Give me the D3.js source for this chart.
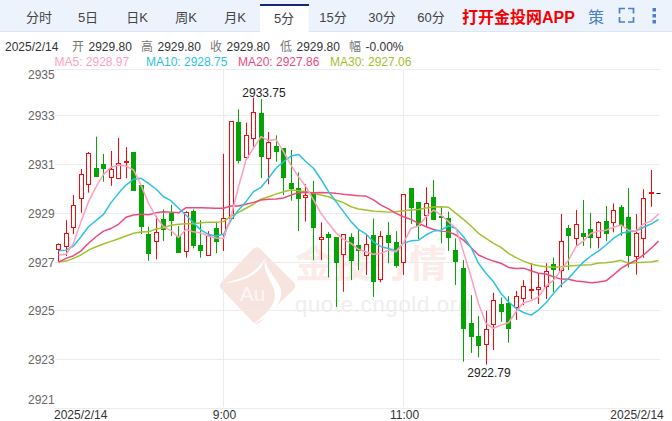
<!DOCTYPE html>
<html><head><meta charset="utf-8">
<script src="https://cdnjs.cloudflare.com/ajax/libs/d3/7.8.5/d3.min.js"></script>
<style>html,body{margin:0;padding:0;background:#fff;overflow:hidden}svg{display:block;font-family:"Liberation Sans","Noto Sans CJK SC",sans-serif}</style>
</head><body><svg id="c" width="672" height="421"></svg>
<script>
const tabs=["分时","5日","日K","周K","月K","5分","15分","30分","60分"];
const yTicks=[2921,2923,2925,2927,2929,2931,2933,2935];
const xLabels=[{i:-0.6,t:"2025/2/14",a:"start"},{i:22.14,t:"9:00",a:"middle"},{i:46.14,t:"11:00",a:"middle"},{i:80.7,t:"2025/2/14",a:"end"}];
const highs=[2927.77,2928.72,2929.75,2930.82,2931.52,2932.15,2931.44,2931.56,2932.10,2931.72,2931.48,2930.16,2928.45,2928.90,2929.16,2929.35,2928.48,2929.09,2929.16,2928.72,2928.27,2928.61,2931.44,2932.78,2933.27,2932.72,2933.75,2933.69,2932.34,2932.20,2931.68,2931.60,2930.68,2930.20,2930.33,2928.63,2928.24,2927.99,2928.15,2928.18,2928.31,2928.15,2928.79,2928.27,2928.64,2928.27,2929.78,2930.00,2929.44,2930.07,2930.37,2929.27,2929.07,2927.97,2927.08,2925.64,2924.78,2925.00,2925.74,2925.55,2925.60,2925.81,2926.26,2926.95,2926.51,2926.95,2927.19,2928.97,2928.52,2929.14,2929.55,2929.02,2928.68,2929.30,2929.41,2929.34,2930.04,2928.97,2929.99,2930.78,2929.80];
const lows=[2927.00,2927.25,2928.15,2929.02,2929.85,2930.53,2930.30,2930.13,2930.44,2930.44,2929.93,2928.15,2927.05,2927.11,2927.86,2928.07,2927.37,2927.18,2927.56,2927.18,2927.26,2927.36,2927.45,2928.79,2931.05,2931.19,2931.74,2930.45,2930.19,2931.12,2929.75,2929.52,2928.27,2928.66,2927.08,2927.08,2926.37,2925.16,2925.78,2926.26,2926.67,2926.47,2925.57,2926.17,2926.95,2926.77,2926.47,2928.56,2927.94,2928.45,2928.72,2927.77,2927.46,2926.06,2922.91,2923.27,2923.09,2922.79,2923.39,2924.55,2923.69,2924.62,2925.23,2925.48,2925.28,2925.48,2925.78,2925.96,2926.67,2927.67,2927.66,2927.56,2927.56,2927.86,2928.22,2928.08,2926.78,2926.48,2927.18,2929.27,2929.80];
const opens=[2927.52,2927.63,2928.41,2929.62,2930.17,2930.85,2931.02,2930.48,2930.44,2931.12,2931.48,2930.16,2928.15,2927.85,2928.75,2929.00,2928.04,2927.44,2929.08,2927.70,2927.26,2928.36,2928.15,2928.79,2932.75,2931.30,2932.06,2933.08,2931.26,2931.76,2931.67,2930.24,2930.00,2929.66,2929.82,2927.92,2928.15,2927.99,2927.32,2928.01,2927.70,2927.26,2928.11,2926.27,2928.11,2927.82,2926.99,2930.00,2929.44,2928.92,2929.67,2928.86,2928.77,2927.49,2926.75,2924.49,2923.96,2923.60,2924.44,2925.26,2925.28,2925.12,2925.51,2925.86,2925.88,2925.99,2926.88,2926.66,2928.38,2927.97,2928.18,2928.34,2928.01,2928.68,2928.63,2929.25,2928.84,2927.22,2927.97,2929.83,2929.80];
const closes=[2927.73,2928.18,2929.33,2930.60,2931.46,2930.53,2930.86,2930.82,2931.05,2931.14,2929.93,2928.45,2927.34,2928.22,2928.33,2928.70,2927.38,2929.02,2927.67,2927.46,2928.07,2927.83,2928.79,2932.78,2931.19,2932.20,2933.15,2931.32,2931.92,2931.52,2930.46,2930.00,2929.60,2929.74,2928.41,2928.01,2928.00,2926.97,2928.14,2927.08,2927.49,2927.74,2926.19,2928.06,2927.82,2926.84,2929.78,2929.23,2928.49,2929.41,2928.74,2928.81,2928.00,2927.01,2924.26,2923.93,2923.59,2924.24,2925.44,2924.99,2924.26,2925.59,2926.00,2925.89,2925.96,2926.62,2926.71,2927.85,2928.08,2928.55,2928.04,2928.00,2928.63,2928.16,2929.12,2928.52,2927.26,2928.18,2929.62,2929.87,2929.80];
const ma5=[2927.29,2927.32,2927.77,2928.66,2929.48,2930.09,2930.60,2930.89,2930.98,2930.94,2930.78,2930.16,2929.41,2928.86,2928.45,2928.29,2928.01,2928.34,2928.24,2928.19,2928.07,2927.99,2927.97,2928.86,2930.09,2931.19,2931.67,2932.15,2931.98,2932.04,2931.53,2930.98,2930.50,2930.09,2929.55,2929.00,2928.59,2928.20,2927.93,2927.77,2927.52,2927.42,2927.32,2927.36,2927.49,2927.42,2927.79,2928.38,2928.48,2928.86,2929.14,2928.93,2928.66,2928.38,2927.42,2926.40,2925.30,2924.48,2924.28,2924.41,2924.51,2924.96,2925.33,2925.41,2925.57,2926.01,2926.26,2926.67,2927.08,2927.63,2927.87,2928.18,2928.27,2928.31,2928.43,2928.52,2928.31,2928.27,2928.56,2928.68,2928.97];
const ma10=[2927.46,2927.49,2927.66,2928.04,2928.45,2928.70,2928.96,2929.44,2929.82,2930.16,2930.40,2930.44,2930.23,2930.00,2929.68,2929.52,2929.21,2928.93,2928.61,2928.31,2928.14,2928.07,2928.14,2928.72,2929.14,2929.48,2929.89,2930.07,2930.44,2930.85,2931.12,2931.35,2931.42,2931.12,2930.85,2930.40,2929.89,2929.48,2929.07,2928.66,2928.34,2928.15,2927.83,2927.63,2927.56,2927.46,2927.77,2927.87,2927.90,2928.11,2928.27,2928.31,2928.49,2928.38,2928.04,2927.60,2926.95,2926.54,2926.19,2925.71,2925.37,2925.10,2924.93,2924.82,2925.03,2925.33,2925.71,2926.06,2926.33,2926.67,2927.01,2927.25,2927.45,2927.70,2927.97,2928.18,2928.24,2928.27,2928.43,2928.56,2928.75];
const ma20=[2927.00,2927.15,2927.26,2927.46,2927.77,2928.04,2928.27,2928.38,2928.55,2928.84,2928.93,2928.96,2928.94,2929.02,2929.07,2929.05,2929.02,2929.23,2929.23,2929.23,2929.22,2929.21,2929.21,2929.30,2929.30,2929.37,2929.45,2929.55,2929.58,2929.59,2929.63,2929.75,2929.85,2929.87,2929.85,2929.86,2929.85,2929.82,2929.78,2929.75,2929.72,2929.71,2929.55,2929.34,2929.18,2929.00,2928.86,2928.75,2928.59,2928.45,2928.34,2928.27,2928.24,2928.11,2927.90,2927.60,2927.29,2927.15,2927.04,2926.95,2926.78,2926.74,2926.75,2926.64,2926.54,2926.51,2926.40,2926.30,2926.29,2926.22,2926.19,2926.15,2926.18,2926.23,2926.47,2926.74,2926.92,2927.08,2927.29,2927.56,2927.86];
const ma30=[2927.00,2927.04,2927.15,2927.29,2927.49,2927.63,2927.74,2927.85,2927.96,2928.07,2928.18,2928.23,2928.24,2928.36,2928.41,2928.51,2928.55,2928.57,2928.57,2928.61,2928.63,2928.63,2928.66,2928.89,2929.04,2929.21,2929.38,2929.58,2929.68,2929.79,2929.89,2929.96,2929.93,2929.89,2929.82,2929.75,2929.68,2929.55,2929.44,2929.27,2929.18,2929.14,2929.09,2929.08,2929.05,2929.07,2929.11,2929.14,2929.16,2929.22,2929.26,2929.27,2929.25,2929.00,2928.75,2928.48,2928.18,2927.97,2927.77,2927.60,2927.36,2927.18,2927.04,2926.92,2926.85,2926.81,2926.79,2926.81,2926.84,2926.86,2926.88,2926.89,2926.96,2926.97,2927.01,2927.07,2926.95,2926.97,2926.99,2927.00,2927.06];
const maColors=["#ff9fbd","#2cc3e2","#ee4a7e","#a2c130"];
const maNames=["MA5","MA10","MA20","MA30"];
const maLast=["2928.97","2928.75","2927.86","2927.06"];
const quote=[["开","2929.80"],["高","2929.80"],["收","2929.80"],["低","2929.80"],["幅","-0.00%"]];

const svg=d3.select("#c");
const x=d3.scaleLinear().domain([0,80]).range([58.5,658.5]);
const y=d3.scaleLinear().domain([2921,2935]).range([408.2,67.2]);
const px=i=>Math.round(x(i)-0.5)+0.5;
const cy=v=>Math.round(y(v)-0.5)+0.5;

// tab bar
svg.append("rect").attr("width",672).attr("height",31).attr("fill","#edf3fd");
svg.append("rect").attr("y",31).attr("width",672).attr("height",1).attr("fill","#dce5f3");
svg.append("rect").attr("x",260).attr("y",5).attr("width",48.5).attr("height",27).attr("fill","#fff");
svg.append("rect").attr("x",260).attr("y",4).attr("width",49).attr("height",2).attr("fill","#0f2a80");
const tabX=d3.scalePoint().domain(tabs).range([39,431]);
svg.selectAll(".tab").data(tabs).join("text").attr("x",d=>tabX(d)).attr("y",(d,i)=>i==5?23:22)
  .attr("text-anchor","middle").attr("font-size",13).attr("fill","#444").text(d=>d);
svg.append("text").attr("x",462).attr("y",22.5).attr("font-size",16).attr("font-weight","bold").attr("fill","#f40000").text("打开金投网APP");
svg.append("text").attr("x",588).attr("y",23).attr("font-size",16).attr("fill","#4a80c8").text("策");
svg.append("path").attr("d","M625 8.5H619.5V13.5M628 8.5H633.5V13.5M619.5 17V22H625M633.5 17V22H628").attr("fill","none").attr("stroke","#4a80c8").attr("stroke-width",1.7);
svg.selectAll(".dot").data([9,15,21]).join("rect").attr("x",652.5).attr("y",d=>d-1).attr("width",3.5).attr("height",3.5).attr("fill","#4a80c8");

// quote rows
svg.append("text").attr("x",5).attr("y",51).attr("font-size",12).attr("fill","#333").text("2025/2/14");
const qx=[72,141,210,280,349];
quote.forEach((q,i)=>{
  svg.append("text").attr("x",qx[i]).attr("y",51).attr("font-size",12).attr("fill","#777").text(q[0]);
  svg.append("text").attr("x",qx[i]+16.5).attr("y",51).attr("font-size",12).attr("fill","#333").text(q[1]);
});
const mx=[54.5,146,238,330];
maNames.forEach((n,i)=>svg.append("text").attr("x",mx[i]).attr("y",66).attr("font-size",12).attr("fill",maColors[i]).text(n+": "+maLast[i]));

// watermark
const wm=svg.append("g");
const gem=wm.append("g").attr("transform","translate(210,240) scale(0.3333)");
gem.append("path").attr("d","M128 28Q140 16 152 28L250 125Q262 137 250 149L152 245Q140 257 128 245L36 149Q24 137 36 125Z").attr("fill","#f8e4df");
gem.append("path").attr("d","M42 130C85 118 135 108 165 55C155 100 105 125 42 130Z").attr("fill","#fff");
gem.append("path").attr("d","M165 55C170 92 195 110 210 140C225 180 190 225 130 252C170 222 205 190 192 148C182 115 158 100 165 55Z").attr("fill","#fff");
gem.append("text").attr("x",128).attr("y",182).attr("text-anchor","middle").attr("font-size",63).attr("fill","#fdf5f3").text("Au");
wm.append("text").attr("x",295).attr("y",277).attr("font-size",38).attr("font-weight","bold").attr("fill","#fbecea").text("金投行情");
wm.append("text").attr("x",295).attr("y",312).attr("font-size",22).attr("letter-spacing",0.75).attr("fill","#eeeeee").text("quote.cngold.org");

// grid
const grid=svg.append("g").attr("stroke","#ececec").attr("stroke-width",1);
grid.selectAll(".h").data(yTicks.slice(0,-1)).join("line").attr("x1",55).attr("x2",660).attr("y1",d=>cy(d)).attr("y2",d=>cy(d));
grid.append("line").attr("x1",55).attr("x2",660).attr("y1",69.5).attr("y2",69.5);
grid.selectAll(".v").data([22,46]).join("line").attr("x1",d=>px(d)).attr("x2",d=>px(d)).attr("y1",69).attr("y2",407);

// y labels
svg.selectAll(".yl").data(yTicks).join("text").attr("x",28).attr("y",d=>Math.max(79,Math.min(y(d)+4.5,404)))
  .attr("font-size",12).attr("fill","#666").text(d=>d);
// x labels
svg.selectAll(".xl").data(xLabels).join("text").attr("x",d=>x(d.i)).attr("y",419)
  .attr("text-anchor",d=>d.a).attr("font-size",12).attr("fill","#333").text(d=>d.t);

// candles
const RED="#f80808",GRN="#04a404";
const idx=d3.range(opens.length);
const cg=svg.append("g");
idx.forEach(i=>{
  const up=closes[i]>=opens[i],c=up?RED:GRN,X=px(i);
  if(i===80){cg.append("line").attr("x1",X-2).attr("x2",X+2).attr("y1",cy(closes[i])).attr("y2",cy(closes[i])).attr("stroke","#222");return;}
  cg.append("line").attr("x1",X).attr("x2",X).attr("y1",y(highs[i])).attr("y2",y(lows[i])).attr("stroke",c);
  const t=cy(Math.max(opens[i],closes[i])),b=cy(Math.min(opens[i],closes[i]));
  if(up) cg.append("rect").attr("x",X-2).attr("width",4).attr("y",t).attr("height",Math.max(b-t,1)).attr("fill","#fff").attr("stroke",c);
  else cg.append("rect").attr("x",X-2.5).attr("width",5).attr("y",t-0.5).attr("height",Math.max(b-t+1,2)).attr("fill",c);
});

// moving averages
const line=d3.line().x((d,i)=>x(i)).y(d=>y(d));
[ma30,ma20,ma10,ma5].forEach((s,k)=>{
  svg.append("path").attr("d",line(s)).attr("fill","none").attr("stroke",maColors[3-k]).attr("stroke-width",1.5).attr("stroke-linejoin","round");
});

// extremes
const hiI=highs.indexOf(d3.max(highs)),loI=lows.indexOf(d3.min(lows));
svg.append("text").attr("x",x(hiI)+10.5).attr("y",y(highs[hiI])-1).attr("text-anchor","middle").attr("font-size",12).attr("fill","#222").text(highs[hiI].toFixed(2));
svg.append("text").attr("x",x(loI)+3).attr("y",y(lows[loI])+12).attr("text-anchor","middle").attr("font-size",12).attr("fill","#222").text(lows[loI].toFixed(2));
</script></body></html>
